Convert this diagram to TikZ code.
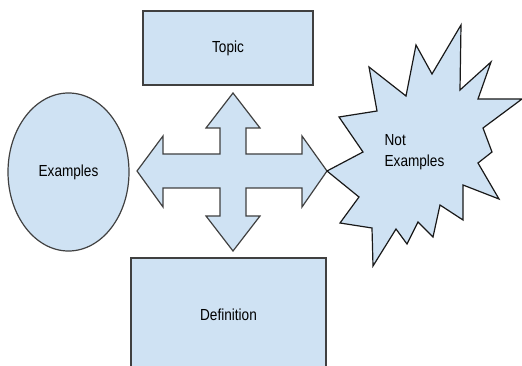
\documentclass[tikz,border=0pt]{standalone}
\usepackage{fontspec}
\setmainfont{Liberation Sans}[FakeStretch=0.85]
\usepackage{xcolor}
\usepackage{tikz}
\usetikzlibrary{shapes.geometric}
\definecolor{paleblue}{RGB}{207,226,243}

\begin{document}
\begin{tikzpicture}[x=1pt,y=-1pt,font=\fontsize{16}{21}\selectfont,
  part/.style={draw=black!75,fill=paleblue,line width=1.2pt}]
\useasboundingbox (0,0) rectangle (522,366);
\clip (0,0) rectangle (522,366);
\node[part,minimum width=170pt,minimum height=74pt] (topic) at (228,48) {Topic};
\node[part,minimum width=195pt,minimum height=114pt] (definition) at (228.5,315) {Definition};
\node[part,ellipse,minimum width=121pt,minimum height=158pt] (examples) at (68.5,172) {Examples};
\filldraw[part] (233,93) -- (260,128) -- (246,128) -- (246,154) -- (302,154) -- (302,136)
  -- (327,171) -- (302,207) -- (302,188) -- (246,188) -- (246,216) -- (260,216)
  -- (233,251) -- (206,216) -- (220,216) -- (220,188) -- (163,188) -- (163,207)
  -- (137,171) -- (163,136) -- (163,154) -- (220,154) -- (220,128) -- (206,128) -- cycle;
\filldraw[part,draw=black!90] (327,171) -- (363,152) -- (339,117) -- (377,111) -- (369,67) -- (406,96)
  -- (416,45) -- (432,74) -- (461,25) -- (460,90) -- (491,62) -- (478,99) -- (522,99)
  -- (483,128) -- (492,152) -- (478,163) -- (499,199) -- (463,185) -- (463,220)
  -- (440,205) -- (433,237) -- (418,222) -- (407,244) -- (396,229) -- (373,266)
  -- (372,228) -- (340,223) -- (359,197) -- cycle;
\node[align=left] (notexamples) at (414.5,152.5) {Not\\Examples};
\end{tikzpicture}
\end{document}
